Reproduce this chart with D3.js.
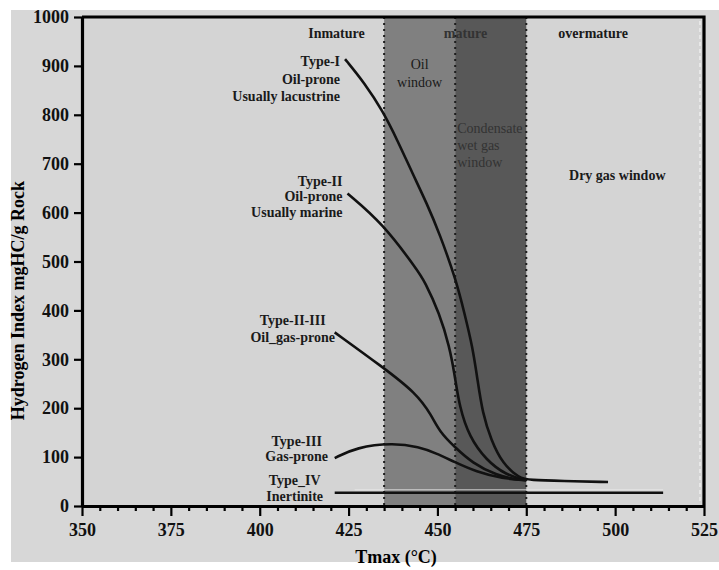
<!DOCTYPE html>
<html>

<head>
    <meta charset="utf-8" />
    <title>HI vs Tmax</title>
    <script src="https://cdn.jsdelivr.net/npm/d3@7/dist/d3.min.js"></script>
</head>

<body>
    <style>
        html,
        body {
            margin: 0;
            padding: 0;
            background: #ffffff;
        }

        svg text {
            font-family: "Liberation Serif", "DejaVu Serif", serif;
        }

        .curve {
            fill: none;
            stroke: #111;
            stroke-width: 2.6px;
        }

        .tick text {
            font-size: 18px;
            font-weight: bold;
            fill: #111;
        }

        .lab {
            font-size: 14px;
            font-weight: bold;
            fill: #1a1a1a;
        }
    </style>
    <div id="container"></div>
    <script>
        // values (Tmax in degC, HI in mgHC/g rock)
        const xTicks = [350, 375, 400, 425, 450, 475, 500, 525];
        const yTicks = [0, 100, 200, 300, 400, 500, 600, 700, 800, 900, 1000];

        const zoneEdges = [435, 455, 475];

        const typeI = [[424, 914], [429.5, 865], [434.6, 808], [438.8, 747], [443, 680], [447, 619], [450.6, 557], [455.3, 461],
            [457.6, 394], [459.9, 325], [461.3, 257], [462.7, 190], [465.1, 135], [468.3, 87], [473, 57], [476, 53], [485, 51], [498, 49]];
        const typeII = [[424.7, 639], [434.6, 578], [444.4, 482], [446.3, 461], [450.6, 394], [453.4, 325], [454.8, 271],
            [456.2, 202], [459, 141], [463.7, 94], [469.3, 63], [475, 53]];
        const typeII_III = [[421.1, 355], [434.6, 284], [444, 231], [448.3, 186], [450.6, 152], [454.8, 121], [459.8, 88],
            [466.5, 63], [473, 53], [475, 53]];
        const typeIII = [[421.1, 98], [427.2, 120], [437.4, 129], [444.9, 121], [449.6, 108], [454.8, 90], [460.9, 70],
            [468.3, 56], [475, 53]];
        const typeIV = [[421.1, 27], [513.5, 27]];

        const curveNames = [
            ["Type-I", "Oil-prone", "Usually lacustrine"],
            ["Type-II", "Oil-prone", "Usually marine"],
            ["Type-II-III", "Oil_gas-prone"],
            ["Type-III", "Gas-prone"],
            ["Type_IV", "Inertinite"]
        ];

        const W = 719, H = 570;
        const svg = d3.select("#container").append("svg")
            .attr("width", W)
            .attr("height", H);

        const x = d3.scaleLinear().domain([350, 525]).range([82, 704]);
        const y = d3.scaleLinear().domain([0, 1000]).range([506, 17]);

        // page + plot backgrounds
        svg.append("rect").attr("x", 11).attr("y", 10).attr("width", W - 11).attr("height", 552).attr("fill", "#d7d7d7");
        svg.append("rect")
            .attr("x", x(350)).attr("y", y(1000))
            .attr("width", x(525) - x(350)).attr("height", y(0) - y(1000))
            .attr("fill", "#d4d4d4");

        // maturity bands
        const bandFill = ["#808080", "#585858"];
        svg.selectAll(".band")
            .data(d3.pairs(zoneEdges))
            .enter().append("rect")
            .attr("class", "band")
            .attr("x", d => x(d[0]))
            .attr("y", y(1000))
            .attr("width", d => x(d[1]) - x(d[0]))
            .attr("height", y(0) - y(1000))
            .attr("fill", (d, i) => bandFill[i]);

        svg.selectAll(".edge")
            .data(zoneEdges)
            .enter().append("line")
            .attr("x1", d => x(d)).attr("x2", d => x(d))
            .attr("y1", y(1000)).attr("y2", y(0))
            .attr("stroke", "#1e1e1e")
            .attr("stroke-width", 2)
            .attr("stroke-dasharray", "2,4");

        // faint white dashes just inside the right frame
        svg.append("line")
            .attr("x1", x(525) - 4).attr("x2", x(525) - 4)
            .attr("y1", y(1000) + 4).attr("y2", y(0) - 2)
            .attr("stroke", "#f4f4f4").attr("stroke-width", 1.2)
            .attr("stroke-dasharray", "4,3");

        // zone labels
        const zoneText = svg.append("g").attr("class", "lab");
        zoneText.append("text").attr("x", x(421.6)).attr("y", 38).attr("text-anchor", "middle").text("Inmature");
        zoneText.append("text").attr("x", x(457.9)).attr("y", 38).attr("text-anchor", "middle").attr("fill", "#333").text("mature");
        zoneText.append("text").attr("x", x(493.8)).attr("y", 38).attr("text-anchor", "middle").text("overmature");
        zoneText.append("text").attr("x", x(500.6)).attr("y", 180).attr("text-anchor", "middle").text("Dry gas window");

        const oilLab = svg.append("text").attr("class", "lab")
            .style("font-weight", "normal").attr("fill", "#2e2e2e")
            .attr("text-anchor", "middle");
        ["Oil", "window"].forEach((t, i) => {
            oilLab.append("tspan").attr("x", x(445)).attr("y", 69 + i * 18).text(t);
        });
        const condLab = svg.append("text").attr("class", "lab")
            .style("font-weight", "normal").style("fill", "#333")
            .attr("font-size", 15);
        ["Condensate", "wet gas", "window"].forEach((t, i) => {
            condLab.append("tspan").attr("x", x(455) + 2).attr("y", 133 + i * 17).text(t);
        });

        // kerogen curves
        const line = d3.line()
            .x(d => x(d[0]))
            .y(d => y(d[1]))
            .curve(d3.curveBasis);

        const series = [typeI, typeII, typeII_III, typeIII, typeIV];

        // light halo above the flat tails
        svg.append("line")
            .attr("x1", x(typeIV[0][0]) + 20).attr("x2", x(typeIV[1][0]))
            .attr("y1", y(typeIV[0][1]) - 3).attr("y2", y(typeIV[1][1]) - 3)
            .attr("stroke", "#ececec").attr("stroke-width", 1).attr("opacity", 0.8);

        svg.selectAll(".curve")
            .data(series)
            .enter().append("path")
            .attr("class", "curve")
            .attr("stroke-width", (d, i) => i === 4 ? 2 : 2.6)
            .attr("d", line);

        // curve labels, placed next to each curve's first point
        const labelSpec = [
            { anchor: "end", dx: -5, dy: [4, 22, 39] },
            { anchor: "end", dx: -5, dy: [-11, 4, 20] },
            { anchor: "middle", dx: -42, dy: [-10, 7] },
            { anchor: "middle", dx: -38, dy: [-15, 0] },
            { anchor: "middle", dx: -40, dy: [-11, 5] }
        ];
        series.forEach((s, k) => {
            const spec = labelSpec[k];
            const t = svg.append("text").attr("class", "lab")
                .attr("text-anchor", spec.anchor)
                .attr("dominant-baseline", "middle");
            curveNames[k].forEach((name, j) => {
                t.append("tspan")
                    .attr("x", x(s[0][0]) + spec.dx)
                    .attr("y", y(s[0][1]) + spec.dy[j])
                    .text(name);
            });
        });

        // axes
        svg.append("g")
            .attr("transform", `translate(0,${y(0)})`)
            .call(d3.axisBottom(x).tickValues(xTicks).tickFormat(d3.format("d")).tickSize(10).tickPadding(7).tickSizeOuter(0));
        svg.append("g")
            .attr("transform", `translate(0,${y(0)})`)
            .call(d3.axisBottom(x).tickValues(d3.range(350, 526, 5).filter(v => xTicks.indexOf(v) < 0)).tickSize(5).tickFormat(""))
            .call(g => g.select(".domain").remove());

        svg.append("g")
            .attr("transform", `translate(${x(350)},0)`)
            .call(d3.axisLeft(y).tickValues(yTicks).tickFormat(d3.format("d")).tickSize(8).tickPadding(5).tickSizeOuter(0));

        svg.selectAll(".domain").attr("stroke", "#000").attr("stroke-width", 3.2);
        svg.selectAll(".tick line").attr("stroke", "#000").attr("stroke-width", 2.2);

        // top and right frame
        svg.append("path")
            .attr("d", `M${x(350)},${y(1000)}H${x(525)}V${y(0)}`)
            .attr("fill", "none").attr("stroke", "#000").attr("stroke-width", 3.2);

        // axis titles
        svg.append("text")
            .attr("x", 396).attr("y", 563)
            .attr("text-anchor", "middle")
            .attr("font-size", 18).attr("font-weight", "bold")
            .text("Tmax (°C)");
        svg.append("text")
            .attr("transform", `translate(24,${y(420)}) rotate(-90)`)
            .attr("text-anchor", "middle")
            .attr("font-size", 18).attr("font-weight", "bold")
            .text("Hydrogen Index mgHC/g Rock");
    </script>
</body>

</html>
